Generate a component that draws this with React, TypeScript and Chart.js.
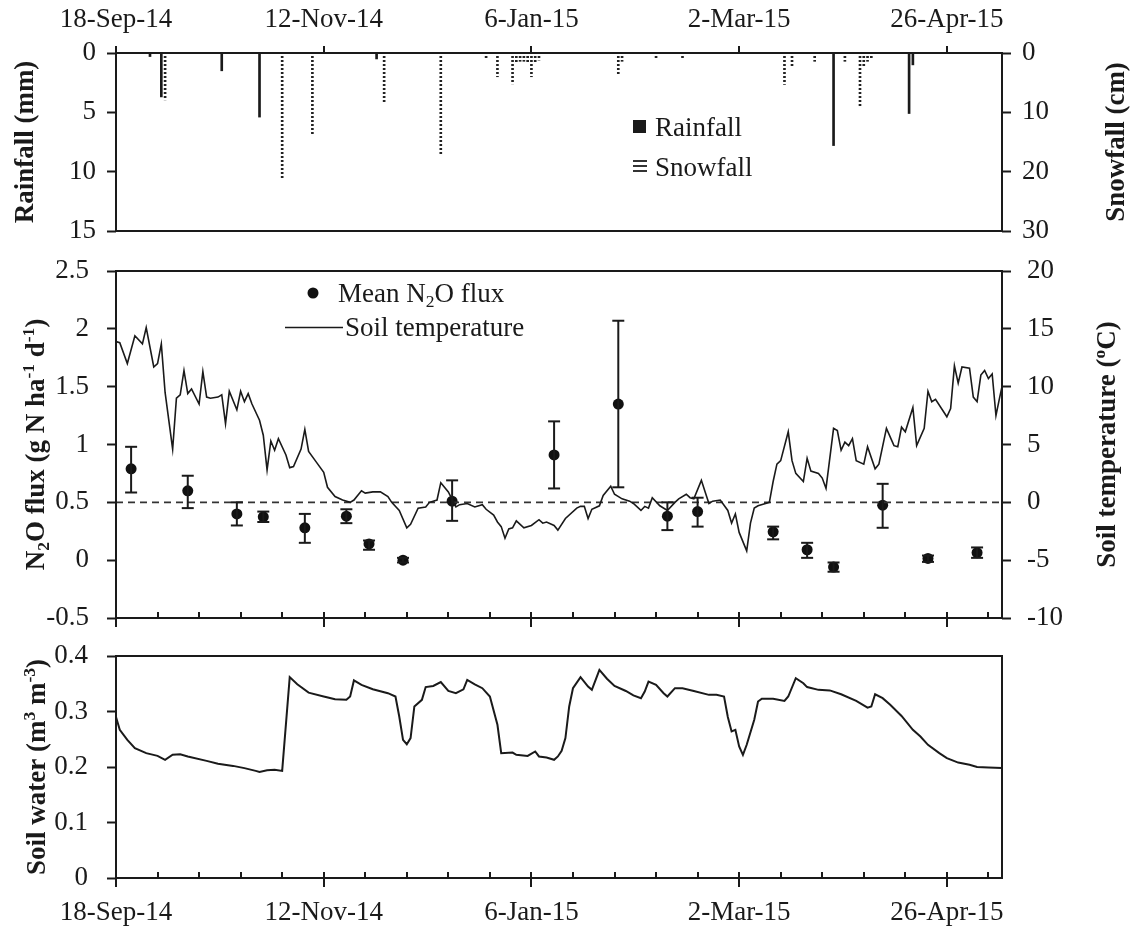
import React, { useEffect, useRef } from 'react';
import { Chart, registerables } from 'chart.js';

Chart.register(...registerables);

// ---------------- data ----------------
const X_MAX = 234.6; // days after 18-Sep-14 at the right frame edge
const MAJOR_DAYS = [0, 55, 110, 165, 220];
const MAJOR_LABELS = ['18-Sep-14', '12-Nov-14', '6-Jan-15', '2-Mar-15', '26-Apr-15'];
const MINOR_STEP = 11;

const RAIN_DAYS = [9, 12, 28, 38, 69, 190, 210, 211];
const RAIN_MM = [0.3, 3.7, 1.5, 5.4, 0.5, 7.8, 5.1, 1.0];

const SNOW_DAYS = [13, 44, 52, 71, 86, 98, 101, 105, 106, 107, 108, 109, 110, 111, 112, 133, 134, 143, 150, 177, 179, 185, 193, 197, 198, 199, 200];
const SNOW_CM = [7.9, 21.1, 13.8, 8.2, 17.2, 1.1, 4.0, 5.2, 1.7, 1.4, 1.4, 1.7, 4.0, 1.7, 1.2, 3.8, 1.4, 0.8, 0.8, 5.3, 2.3, 1.4, 1.4, 9.0, 2.3, 1.4, 1.0];

const FLUX_DAYS = [4, 19, 32, 39, 50, 61, 67, 76, 89, 116, 133, 146, 154, 174, 183, 190, 203, 215, 228];
const FLUX_MEAN = [0.79, 0.60, 0.40, 0.375, 0.28, 0.38, 0.14, 0.0, 0.51, 0.91, 1.35, 0.38, 0.42, 0.245, 0.09, -0.06, 0.475, 0.015, 0.065];
const FLUX_LOW = [0.585, 0.45, 0.30, 0.33, 0.15, 0.32, 0.09, -0.02, 0.34, 0.62, 0.63, 0.26, 0.29, 0.18, 0.02, -0.10, 0.28, -0.015, 0.02];
const FLUX_HIGH = [0.98, 0.73, 0.50, 0.42, 0.40, 0.44, 0.17, 0.02, 0.69, 1.20, 2.07, 0.50, 0.54, 0.29, 0.15, -0.02, 0.66, 0.04, 0.11];
const REF_FLUX = 0.5; // dashed line (0 °C on the right axis)

const TEMP_DAYS = [
  0, 1, 3, 5, 7, 8, 10, 11, 12, 13,
  15, 16, 17, 18, 19, 20, 22, 23, 24, 25,
  27, 28, 29, 30, 32, 33, 34, 35, 36, 38,
  39, 40, 41, 42, 43, 45, 46, 47, 49, 50,
  51, 53, 55, 56, 58, 60, 62, 63, 65, 66,
  68, 70, 72, 73, 75, 77, 78, 80, 82, 83,
  85, 86, 88, 90, 91, 93, 95, 97, 98, 100,
  101, 102, 103, 104, 105, 106, 108, 110, 112, 113,
  114, 116, 117, 119, 122, 123, 124, 125, 126, 128,
  129, 131, 132, 134, 136, 137, 139, 140, 141, 142,
  144, 146, 148, 149, 151, 152, 153, 155, 156, 157,
  158, 160, 162, 163, 164, 165, 167, 168, 169, 170,
  172, 173, 174, 175, 176, 178, 179, 180, 182, 183,
  184, 186, 187, 188, 190, 191, 192, 193, 194, 195,
  196, 198, 199, 201, 202, 204, 206, 207, 208, 209,
  211, 212, 214, 215, 216, 217, 220, 221, 222, 223,
  224, 226, 227, 228, 229, 230, 231, 232, 233, 234,
  234.6,
];
const TEMP_C = [
  13.9, 13.8, 12.0, 14.4, 13.7, 15.1, 11.7, 12.0, 13.7, 9.5,
  4.6, 9.0, 9.3, 11.4, 9.4, 9.8, 8.5, 11.3, 9.1, 9.0,
  9.1, 9.3, 6.8, 9.6, 8.0, 9.6, 8.7, 9.4, 8.5, 7.1,
  5.8, 2.8, 5.3, 4.5, 5.5, 4.1, 3.0, 3.1, 4.6, 6.3,
  4.4, 3.5, 2.6, 1.3, 0.5, 0.2, 0.0, 0.2, 1.0, 0.8,
  0.9, 0.9, 0.5, 0.0, -0.7, -2.2, -1.9, -0.5, -0.4, 0.0,
  0.2, 1.7, 0.9, -0.4, -0.2, -0.1, -0.4, -0.2, -0.6, -1.1,
  -1.7, -2.1, -3.1, -2.3, -2.2, -1.6, -2.2, -2.0, -1.5, -1.8,
  -1.7, -2.0, -2.4, -1.4, -0.5, -0.35, -0.35, -1.4, -0.6, -0.3,
  0.6, 1.4, 0.7, 0.3, 0.1, -0.1, -0.7, -0.35, -0.5, 0.4,
  -0.3, -0.7, 0.0, 0.3, 0.7, 0.4, 0.3, 1.9, 0.9, -0.1,
  0.1, 0.2, -0.7, -1.8, -1.0, -2.6, -4.2, -1.8, -0.5, -0.3,
  -0.1, 0.0, 1.8, 3.3, 3.6, 6.1, 3.6, 2.5, 1.8, 3.8,
  2.7, 2.5, 2.1, 1.2, 6.4, 6.2, 4.5, 5.2, 4.9, 5.5,
  3.6, 3.3, 4.8, 2.9, 3.3, 6.4, 4.9, 4.8, 6.5, 6.1,
  8.2, 4.9, 6.4, 9.6, 8.7, 8.9, 7.4, 8.1, 11.8, 10.3,
  11.7, 11.6, 9.1, 8.7, 11.0, 11.4, 10.7, 11.1, 7.5, 9.1,
  10.0,
];

const SWC_DAYS = [
  0, 1, 3, 5, 8, 11, 13, 15, 17, 19,
  24, 27, 31, 34, 37, 38, 40, 42, 44, 46,
  48, 51, 55, 58, 61, 62, 63, 65, 68, 72,
  74, 75, 76, 77, 78, 79, 81, 82, 84, 86,
  88, 90, 92, 93, 95, 97, 99, 101, 102, 105,
  106, 109, 111, 112, 114, 116, 117, 118, 119, 120,
  121, 123, 125, 126, 127, 128, 130, 132, 135, 137,
  139, 140, 141, 143, 145, 146, 148, 150, 153, 157,
  159, 161, 162, 163, 164, 165, 166, 167, 169, 170,
  171, 174, 177, 178, 180, 182, 183, 186, 189, 192,
  196, 199, 200, 201, 203, 205, 208, 211, 213, 215,
  218, 220, 223, 226, 228, 231, 234.6,
];
const SWC = [
  0.290, 0.267, 0.249, 0.234, 0.225, 0.220, 0.213, 0.222, 0.223, 0.219,
  0.211, 0.206, 0.202, 0.198, 0.193, 0.191, 0.194, 0.195, 0.193, 0.362,
  0.349, 0.334, 0.327, 0.322, 0.321, 0.327, 0.356, 0.348, 0.340, 0.333,
  0.327, 0.291, 0.249, 0.241, 0.252, 0.309, 0.321, 0.344, 0.346, 0.353,
  0.337, 0.333, 0.340, 0.357, 0.349, 0.342, 0.327, 0.276, 0.225, 0.226,
  0.222, 0.220, 0.228, 0.219, 0.217, 0.213, 0.219, 0.229, 0.252, 0.309,
  0.342, 0.362, 0.345, 0.339, 0.357, 0.375, 0.359, 0.346, 0.337, 0.329,
  0.324, 0.336, 0.354, 0.348, 0.333, 0.327, 0.342, 0.342, 0.337, 0.330,
  0.330, 0.327, 0.290, 0.264, 0.267, 0.237, 0.222, 0.240, 0.285, 0.318,
  0.323, 0.323, 0.319, 0.327, 0.360, 0.351, 0.344, 0.339, 0.338, 0.331,
  0.319, 0.307, 0.309, 0.331, 0.324, 0.312, 0.292, 0.267, 0.255, 0.240,
  0.225, 0.216, 0.208, 0.204, 0.200, 0.199, 0.198,
];

// ---------------- layout / style ----------------
const W = 1132;
const H = 930;
const LEFT_W = 116;
const RIGHT_W = 130;
const P1 = { top: 53, bottom: 231 };
const P2 = { top: 271, bottom: 618 };
const P3 = { top: 656, bottom: 878 };
const FONT = "'Liberation Serif', 'Times New Roman', serif";
const INK = '#1a1a1a';
const TICK_SIZE = 27;
const TITLE_SIZE = 27;

type Seg = { t: string; m?: 'sub' | 'sup' };

function fontStr(size: number, bold: boolean) {
  return `${bold ? 'bold ' : ''}${size}px ${FONT}`;
}

function drawRich(ctx: CanvasRenderingContext2D, segs: Seg[], x: number, y: number, size: number, bold: boolean, rotate: boolean, align: 'left' | 'center') {
  ctx.save();
  ctx.translate(x, y);
  if (rotate) ctx.rotate(-Math.PI / 2);
  let total = 0;
  for (const s of segs) {
    ctx.font = fontStr(s.m ? size * 0.65 : size, bold);
    total += ctx.measureText(s.t).width;
  }
  let cx = align === 'center' ? -total / 2 : 0;
  const base = size * 0.33;
  ctx.textAlign = 'left';
  ctx.textBaseline = 'alphabetic';
  ctx.fillStyle = INK;
  for (const s of segs) {
    const sz = s.m ? size * 0.65 : size;
    ctx.font = fontStr(sz, bold);
    const dy = s.m === 'sub' ? size * 0.2 : s.m === 'sup' ? -size * 0.38 : 0;
    ctx.fillText(s.t, cx, base + dy);
    cx += ctx.measureText(s.t).width;
  }
  ctx.restore();
}

function line(ctx: CanvasRenderingContext2D, x1: number, y1: number, x2: number, y2: number) {
  ctx.beginPath();
  ctx.moveTo(x1, y1);
  ctx.lineTo(x2, y2);
  ctx.stroke();
}

function drawFrame(chart: any) {
  const { ctx, chartArea: a } = chart;
  ctx.save();
  ctx.strokeStyle = INK;
  ctx.lineWidth = 2;
  ctx.strokeRect(a.left, a.top, a.right - a.left, a.bottom - a.top);
  ctx.restore();
}

function drawXTicks(chart: any, mode: 'top' | 'bottom') {
  const { ctx, chartArea: a } = chart;
  const xs = chart.scales.x;
  ctx.save();
  ctx.strokeStyle = INK;
  ctx.lineWidth = 2;
  for (let d = 0; d <= X_MAX; d += MINOR_STEP) {
    const px = Math.round(xs.getPixelForValue(d));
    const major = MAJOR_DAYS.includes(d);
    if (mode === 'top') {
      if (major) line(ctx, px, a.top, px, a.top - 7);
    } else if (major) {
      line(ctx, px, a.bottom - 6, px, a.bottom + 9);
    } else {
      line(ctx, px, a.bottom - 6, px, a.bottom);
    }
  }
  ctx.restore();
}

const numFmt = (v: any) => String(Math.round(Number(v) * 10) / 10);

function yAxis(position: 'left' | 'right', min: number, max: number, step: number, reverse: boolean, width: number, padding: number) {
  return {
    type: 'linear',
    position,
    min,
    max,
    reverse,
    ticks: { stepSize: step, color: INK, font: { family: FONT, size: TICK_SIZE }, padding, callback: numFmt },
    grid: { display: true, drawOnChartArea: false, drawTicks: true, tickLength: 9, tickWidth: 2, tickColor: INK, color: INK },
    border: { display: false },
    afterFit: (s: any) => {
      s.width = width;
    },
  };
}

function xAxis(position: 'top' | 'bottom', height: number, padding: number) {
  return {
    type: 'linear',
    position,
    min: 0,
    max: X_MAX,
    offset: false,
    afterBuildTicks: (s: any) => {
      s.ticks = MAJOR_DAYS.map((v) => ({ value: v }));
    },
    ticks: {
      autoSkip: false,
      maxRotation: 0,
      minRotation: 0,
      color: INK,
      font: { family: FONT, size: TICK_SIZE },
      padding,
      callback: (v: any) => {
        const i = MAJOR_DAYS.indexOf(Number(v));
        return i >= 0 ? MAJOR_LABELS[i] : '';
      },
    },
    grid: { display: false },
    border: { display: false },
    afterFit: (s: any) => {
      s.height = height;
    },
  };
}

function baseOptions(padding: any) {
  return {
    responsive: false,
    animation: false as const,
    devicePixelRatio: 1,
    events: [] as any[],
    layout: { padding },
    plugins: {
      legend: { display: false },
      tooltip: { enabled: false },
      title: { display: false },
    },
  };
}

function makeTop(canvas: HTMLCanvasElement) {
  const pc = document.createElement('canvas');
  pc.width = 2;
  pc.height = 4;
  const pctx = pc.getContext('2d')!;
  pctx.fillStyle = '#222';
  pctx.fillRect(0, 0, 2, 2);
  const pattern = canvas.getContext('2d')!.createPattern(pc, 'repeat');

  return new Chart(canvas, {
    type: 'bar',
    data: {
      datasets: [
        {
          label: 'Rainfall',
          data: RAIN_DAYS.map((d, i) => ({ x: d, y: RAIN_MM[i] })),
          yAxisID: 'y',
          backgroundColor: INK,
          barThickness: 2,
          grouped: false,
        } as any,
        {
          label: 'Snowfall',
          data: SNOW_DAYS.map((d, i) => ({ x: d, y: SNOW_CM[i] })),
          yAxisID: 'y1',
          backgroundColor: pattern,
          barThickness: 2,
          grouped: false,
        } as any,
      ],
    },
    options: {
      ...baseOptions({ top: 0, bottom: H - P1.bottom, left: 0, right: 0 }),
      scales: {
        x: xAxis('top', P1.top, 9),
        y: yAxis('left', 0, 15, 5, true, LEFT_W, 11),
        y1: yAxis('right', 0, 30, 10, true, RIGHT_W, 11),
      },
    } as any,
    plugins: [
      {
        id: 'decorTop',
        afterDraw(chart: any) {
          const ctx = chart.ctx;
          drawFrame(chart);
          drawXTicks(chart, 'top');
          const cy = (chart.chartArea.top + chart.chartArea.bottom) / 2;
          drawRich(ctx, [{ t: 'Rainfall (mm)' }], 24, cy, TITLE_SIZE, true, true, 'center');
          drawRich(ctx, [{ t: 'Snowfall (cm)' }], 1115, cy, TITLE_SIZE, true, true, 'center');
          // legend
          ctx.save();
          ctx.fillStyle = INK;
          ctx.fillRect(633, 120, 13, 13);
          ctx.strokeStyle = '#333';
          ctx.lineWidth = 2;
          for (const yy of [161, 166, 171]) line(ctx, 633, yy, 647, yy);
          ctx.restore();
          drawRich(ctx, [{ t: 'Rainfall' }], 655, 127, TICK_SIZE, false, false, 'left');
          drawRich(ctx, [{ t: 'Snowfall' }], 655, 167, TICK_SIZE, false, false, 'left');
        },
      },
    ],
  });
}

function makeMid(canvas: HTMLCanvasElement) {
  return new Chart(canvas, {
    type: 'scatter',
    data: {
      datasets: [
        {
          label: 'Soil temperature',
          data: TEMP_DAYS.map((d, i) => ({ x: d, y: TEMP_C[i] })),
          yAxisID: 'y1',
          showLine: true,
          borderColor: INK,
          borderWidth: 1.6,
          pointRadius: 0,
          tension: 0,
        } as any,
        {
          label: 'reference',
          data: [
            { x: 0, y: REF_FLUX },
            { x: X_MAX, y: REF_FLUX },
          ],
          yAxisID: 'y',
          showLine: true,
          borderColor: '#333',
          borderWidth: 1.6,
          borderDash: [7, 5],
          pointRadius: 0,
        } as any,
        {
          label: 'Mean N2O flux',
          data: FLUX_DAYS.map((d, i) => ({ x: d, y: FLUX_MEAN[i] })),
          yAxisID: 'y',
          showLine: false,
          pointRadius: 5.5,
          pointBackgroundColor: '#111',
          pointBorderColor: '#111',
          pointBorderWidth: 0,
        } as any,
      ],
    },
    options: {
      ...baseOptions({ top: P2.top, bottom: H - P2.bottom, left: 0, right: 0 }),
      scales: {
        x: { type: 'linear', min: 0, max: X_MAX, display: false, offset: false },
        y: yAxis('left', -0.5, 2.5, 0.5, false, LEFT_W, 18),
        y1: yAxis('right', -10, 20, 5, false, RIGHT_W, 16),
      },
    } as any,
    plugins: [
      {
        id: 'decorMid',
        afterDatasetsDraw(chart: any) {
          const { ctx } = chart;
          const xs = chart.scales.x;
          const ys = chart.scales.y;
          ctx.save();
          ctx.strokeStyle = INK;
          ctx.lineWidth = 2;
          FLUX_DAYS.forEach((d, i) => {
            const px = xs.getPixelForValue(d);
            const yh = ys.getPixelForValue(FLUX_HIGH[i]);
            const yl = ys.getPixelForValue(FLUX_LOW[i]);
            line(ctx, px, yh, px, yl);
            line(ctx, px - 6, yh, px + 6, yh);
            line(ctx, px - 6, yl, px + 6, yl);
          });
          ctx.restore();
        },
        afterDraw(chart: any) {
          const ctx = chart.ctx;
          drawFrame(chart);
          drawXTicks(chart, 'bottom');
          const cy = (chart.chartArea.top + chart.chartArea.bottom) / 2;
          drawRich(
            ctx,
            [{ t: 'N' }, { t: '2', m: 'sub' }, { t: 'O flux (g N ha' }, { t: '-1', m: 'sup' }, { t: ' d' }, { t: '-1', m: 'sup' }, { t: ')' }],
            35,
            cy,
            TITLE_SIZE,
            true,
            true,
            'center'
          );
          drawRich(ctx, [{ t: 'Soil temperature (' }, { t: 'o', m: 'sup' }, { t: 'C)' }], 1106, cy, TITLE_SIZE, true, true, 'center');
          // legend
          ctx.save();
          ctx.fillStyle = '#111';
          ctx.beginPath();
          ctx.arc(313, 293, 5.5, 0, Math.PI * 2);
          ctx.fill();
          ctx.strokeStyle = INK;
          ctx.lineWidth = 1.5;
          line(ctx, 285, 327.5, 343, 327.5);
          ctx.restore();
          drawRich(ctx, [{ t: 'Mean N' }, { t: '2', m: 'sub' }, { t: 'O flux' }], 338, 293, TICK_SIZE, false, false, 'left');
          drawRich(ctx, [{ t: 'Soil temperature' }], 345, 327, TICK_SIZE, false, false, 'left');
        },
      },
    ],
  });
}

function makeBottom(canvas: HTMLCanvasElement) {
  return new Chart(canvas, {
    type: 'scatter',
    data: {
      datasets: [
        {
          label: 'Soil water',
          data: SWC_DAYS.map((d, i) => ({ x: d, y: SWC[i] })),
          showLine: true,
          borderColor: INK,
          borderWidth: 2,
          pointRadius: 0,
          tension: 0,
        } as any,
      ],
    },
    options: {
      ...baseOptions({ top: P3.top, bottom: 0, left: 0, right: RIGHT_W }),
      scales: {
        x: xAxis('bottom', H - P3.bottom, 11),
        y: yAxis('left', 0, 0.4, 0.1, false, LEFT_W, 19),
      },
    } as any,
    plugins: [
      {
        id: 'decorBottom',
        afterDraw(chart: any) {
          const ctx = chart.ctx;
          drawFrame(chart);
          drawXTicks(chart, 'bottom');
          const cy = (chart.chartArea.top + chart.chartArea.bottom) / 2;
          drawRich(
            ctx,
            [{ t: 'Soil water (m' }, { t: '3', m: 'sup' }, { t: ' m' }, { t: '-3', m: 'sup' }, { t: ')' }],
            36,
            cy,
            TITLE_SIZE,
            true,
            true,
            'center'
          );
        },
      },
    ],
  });
}

export default function App() {
  const r1 = useRef<HTMLCanvasElement>(null);
  const r2 = useRef<HTMLCanvasElement>(null);
  const r3 = useRef<HTMLCanvasElement>(null);

  useEffect(() => {
    const charts = [makeTop(r1.current!), makeMid(r2.current!), makeBottom(r3.current!)];
    return () => charts.forEach((c) => c.destroy());
  }, []);

  const cs: React.CSSProperties = { position: 'absolute', left: 0, top: 0, width: W, height: H, display: 'block' };
  return (
    <div style={{ position: 'absolute', left: 0, top: 0, width: W, height: H, background: '#fff', overflow: 'hidden' }}>
      <canvas ref={r1} width={W} height={H} style={cs} />
      <canvas ref={r2} width={W} height={H} style={cs} />
      <canvas ref={r3} width={W} height={H} style={cs} />
    </div>
  );
}
